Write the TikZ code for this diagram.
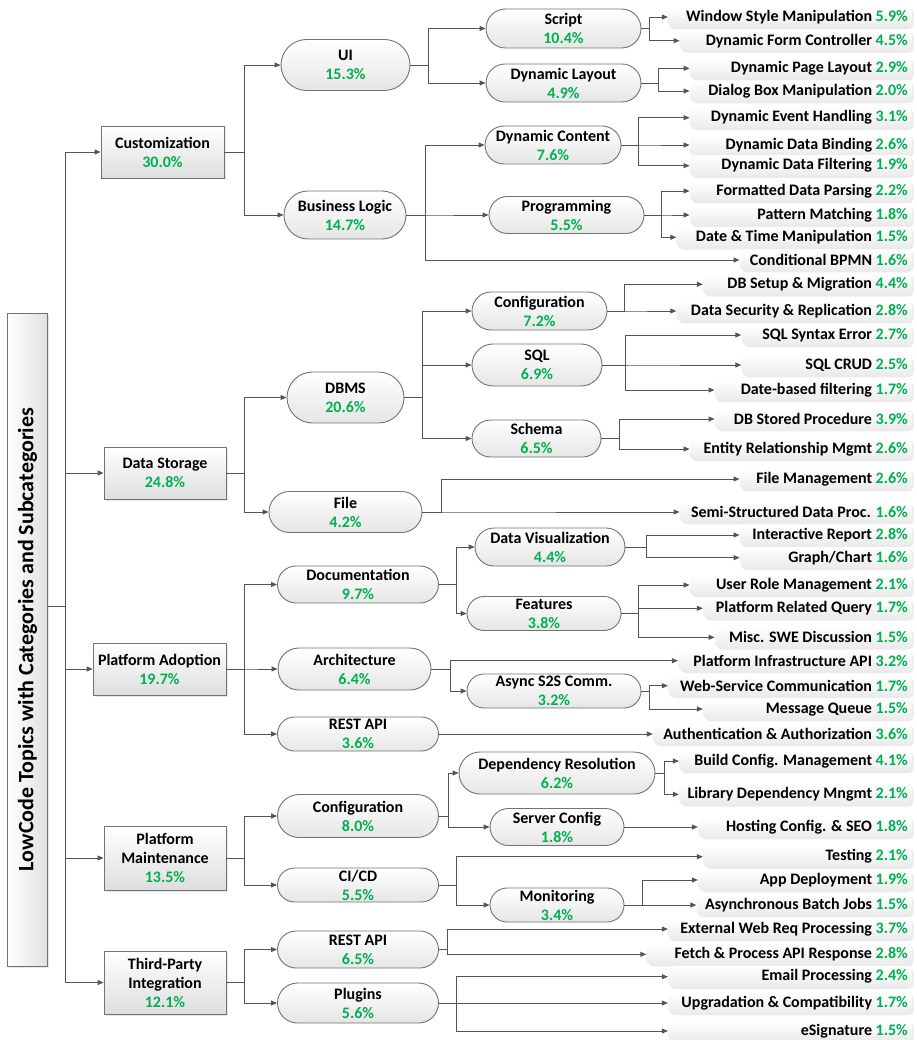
\documentclass[tikz,border=0pt]{standalone}
\usepackage{fontspec}
\usepackage{graphicx}
\setmainfont{Carlito}
\usetikzlibrary{arrows.meta,shapes.misc,shadows}
\definecolor{pctgreen}{RGB}{0,176,80}
\definecolor{linegray}{RGB}{85,85,85}
\definecolor{bordergray}{RGB}{115,115,115}
\newcommand{\pct}[1]{\textcolor{pctgreen}{#1}}
\tikzset{
  base/.style={font=\fontsize{16}{19}\selectfont\bfseries, align=center, inner sep=0pt, text=black},
  catbox/.style={base, rectangle, draw=bordergray, line width=0.9pt, top color=white, bottom color=black!13,
     drop shadow={shadow xshift=1.5pt, shadow yshift=-1.5pt, opacity=0.18}},
  rootbox/.style={base, font=\fontsize{22}{26}\selectfont\bfseries, rectangle, draw=bordergray, line width=0.9pt,
     left color=white, right color=black!12,
     drop shadow={shadow xshift=1.5pt, shadow yshift=-1.5pt, opacity=0.18}},
  pill/.style={base, rounded rectangle, draw=bordergray, line width=0.9pt, top color=white, bottom color=black!10},
  leaf/.style={base, rounded corners=5pt, top color=white, bottom color=black!8, inner xsep=4pt, inner ysep=0pt,
     minimum height=21pt, anchor=east,
     drop shadow={shadow xshift=1.8pt, shadow yshift=-1.8pt, opacity=0.16}},
  conn/.style={draw=linegray, line width=0.9pt},
  arr/.style={conn, -{Triangle[length=6pt,width=5pt]}},
}
\newcommand{\leafnode}[5]{%
  \pgfmathsetmacro{\lfw}{904-#2}%
  \node[leaf] (#1) at (912,#3) {\makebox[\lfw pt][r]{#4 \pct{#5}}};}
\newcommand{\tolink}[3]{\draw[arr] (#1.east) -- (#1.east -| #2) |- (#3.west);}
\begin{document}
\begin{tikzpicture}[x=1pt,y=-1pt]
\useasboundingbox (0,0) rectangle (917,1040);

% root
\node[rootbox, minimum width=40, minimum height=653] (root) at (27.6,639.5)
  {\rotatebox{90}{LowCode Topics with Categories and Subcategories}};

% categories
\node[catbox, minimum width=123, minimum height=52] (cust) at (162.5,152) {Customization\\\pct{30.0\%}};
\node[catbox, minimum width=122, minimum height=52] (ds) at (165,473) {Data Storage\\\pct{24.8\%}};
\node[catbox, minimum width=133, minimum height=52] (pa) at (159.5,669) {Platform Adoption\\\pct{19.7\%}};
\node[catbox, minimum width=122, minimum height=64] (pm) at (165,858) {Platform\\Maintenance\\\pct{13.5\%}};
\node[catbox, minimum width=122, minimum height=63] (tpi) at (165,982.5) {Third-Party\\Integration\\\pct{12.1\%}};

% level 2
\node[pill, minimum width=129, minimum height=51] (ui) at (345.5,65) {UI\\\pct{15.3\%}};
\node[pill, minimum width=122, minimum height=48] (bl) at (345,215) {Business Logic\\\pct{14.7\%}};
\node[pill, minimum width=117, minimum height=51] (dbms) at (345.5,397.5) {DBMS\\\pct{20.6\%}};
\node[pill, minimum width=153, minimum height=41] (file) at (345.5,512) {File\\\pct{4.2\%}};
\node[pill, minimum width=161, minimum height=37] (doc) at (358,584.5) {Documentation\\\pct{9.7\%}};
\node[pill, minimum width=153, minimum height=42] (arch) at (354.5,669) {Architecture\\\pct{6.4\%}};
\node[pill, minimum width=161, minimum height=34] (restpa) at (358,734) {REST API\\\pct{3.6\%}};
\node[pill, minimum width=161, minimum height=43] (cfgpm) at (358,816) {Configuration\\\pct{8.0\%}};
\node[pill, minimum width=161, minimum height=34] (cicd) at (358,885) {CI/CD\\\pct{5.5\%}};
\node[pill, minimum width=161, minimum height=37] (resttp) at (358,949.5) {REST API\\\pct{6.5\%}};
\node[pill, minimum width=161, minimum height=40] (plug) at (358,1003) {Plugins\\\pct{5.6\%}};

% level 3
\node[pill, minimum width=155, minimum height=39] (script) at (563.5,28.5) {Script\\\pct{10.4\%}};
\node[pill, minimum width=155, minimum height=38] (dlay) at (563.5,83) {Dynamic Layout\\\pct{4.9\%}};
\node[pill, minimum width=136, minimum height=38] (dcon) at (553,145) {Dynamic Content\\\pct{7.6\%}};
\node[pill, minimum width=155, minimum height=37] (prog) at (566.5,215) {Programming\\\pct{5.5\%}};
\node[pill, minimum width=135, minimum height=38] (cfgds) at (539.5,311) {Configuration\\\pct{7.2\%}};
\node[pill, minimum width=130, minimum height=42] (sql) at (537,365) {SQL\\\pct{6.9\%}};
\node[pill, minimum width=129, minimum height=37] (schema) at (536.5,438.5) {Schema\\\pct{6.5\%}};
\node[pill, minimum width=150, minimum height=38] (dviz) at (550,547) {Data Visualization\\\pct{4.4\%}};
\node[pill, minimum width=154, minimum height=34] (feat) at (544,613.5) {Features\\\pct{3.8\%}};
\node[pill, minimum width=174, minimum height=34] (async) at (554,691) {Async S2S Comm.\\\pct{3.2\%}};
\node[pill, minimum width=196, minimum height=42] (dep) at (557,773) {Dependency Resolution\\\pct{6.2\%}};
\node[pill, minimum width=134, minimum height=37] (srv) at (557,827) {Server Config\\\pct{1.8\%}};
\node[pill, minimum width=134, minimum height=34] (mon) at (557,905) {Monitoring\\\pct{3.4\%}};

% leaves
\leafnode{l1}{668.3}{17}{Window Style Manipulation}{5.9\%}
\leafnode{l2}{680}{40.7}{Dynamic Form Controller}{4.5\%}
\leafnode{l3}{690}{68.3}{Dynamic Page Layout}{2.9\%}
\leafnode{l4}{690}{91}{Dialog Box Manipulation}{2.0\%}
\leafnode{l5}{690}{117.7}{Dynamic Event Handling}{3.1\%}
\leafnode{l6}{690}{145}{Dynamic Data Binding}{2.6\%}
\leafnode{l7}{690}{165.7}{Dynamic Data Filtering}{1.9\%}
\leafnode{l8}{690}{191}{Formatted Data Parsing}{2.2\%}
\leafnode{l9}{690}{215}{Pattern Matching}{1.8\%}
\leafnode{l10}{676.7}{237.3}{Date \& Time Manipulation}{1.5\%}
\leafnode{l11}{740}{260}{Conditional BPMN}{1.6\%}
\leafnode{l12}{703.3}{284.3}{DB Setup \& Migration}{4.4\%}
\leafnode{l13}{676.7}{311}{Data Security \& Replication}{2.8\%}
\leafnode{l14}{741.7}{335}{SQL Syntax Error}{2.7\%}
\leafnode{l15}{741.7}{365}{SQL CRUD}{2.5\%}
\leafnode{l16}{715}{390}{Date-based filtering}{1.7\%}
\leafnode{l17}{715}{419}{DB Stored Procedure}{3.9\%}
\leafnode{l18}{690}{449}{Entity Relationship Mgmt}{2.6\%}
\leafnode{l19}{740}{479}{File Management}{2.6\%}
\leafnode{l20}{680}{512}{Semi-Structured Data Proc.}{1.6\%}
\leafnode{l21}{740}{535}{Interactive Report}{2.8\%}
\leafnode{l22}{740}{557.7}{Graph/Chart}{1.6\%}
\leafnode{l23}{690}{585}{User Role Management}{2.1\%}
\leafnode{l24}{703.3}{608.3}{Platform Related Query}{1.7\%}
\leafnode{l25}{715}{637.3}{Misc. SWE Discussion}{1.5\%}
\leafnode{l26}{678.3}{660.7}{Platform Infrastructure API}{3.2\%}
\leafnode{l27}{668.3}{685.7}{Web-Service Communication}{1.7\%}
\leafnode{l28}{703.3}{709}{Message Queue}{1.5\%}
\leafnode{l29}{653.3}{734}{Authentication \& Authorization}{3.6\%}
\leafnode{l30}{679.3}{761}{Build Config. Management}{4.1\%}
\leafnode{l31}{679.3}{794.3}{Library Dependency Mngmt}{2.1\%}
\leafnode{l32}{698.3}{827}{Hosting Config. \& SEO}{1.8\%}
\leafnode{l33}{703.3}{856.7}{Testing}{2.1\%}
\leafnode{l34}{698.3}{880}{App Deployment}{1.9\%}
\leafnode{l35}{696.7}{905}{Asynchronous Batch Jobs}{1.5\%}
\leafnode{l36}{668.3}{929}{External Web Req Processing}{3.7\%}
\leafnode{l37}{646.7}{954.3}{Fetch \& Process API Response}{2.8\%}
\leafnode{l38}{668.3}{976.7}{Email Processing}{2.4\%}
\leafnode{l39}{668.3}{1003}{Upgradation \& Compatibility}{1.7\%}
\leafnode{l40}{668.3}{1031}{eSignature}{1.5\%}

% branch coordinates
\coordinate (rj) at (65,606.5);
\coordinate (bCat) at (244,0);
\coordinate (bUI) at (428,0);
\coordinate (bBL) at (425,0);
\coordinate (bDBMS) at (422,0);
\coordinate (bFile) at (441,0);
\coordinate (bDoc) at (456.7,0);
\coordinate (bArch) at (450,0);
\coordinate (bCfgPM) at (448,0);
\coordinate (bCICD) at (456.7,0);
\coordinate (bRestTP) at (447.7,0);
\coordinate (bPlug) at (456.7,0);
\coordinate (bScript) at (649,0);
\coordinate (bDLay) at (658.3,0);
\coordinate (bDCon) at (638.7,0);
\coordinate (bProg) at (661.3,0);
\coordinate (bCfgDS) at (624.3,0);
\coordinate (bSQL) at (625,0);
\coordinate (bSchema) at (619,0);
\coordinate (bDViz) at (646.7,0);
\coordinate (bFeat) at (638.7,0);
\coordinate (bAsync) at (649,0);
\coordinate (bDep) at (664.3,0);
\coordinate (bMon) at (642.3,0);

% root connectors
\draw[conn] (root.east |- rj) -- (rj);
\foreach \c in {cust,ds,pa,pm,tpi} {\draw[arr] (rj) |- (\c.west);}

% category -> level 2
\foreach \c in {ui,bl} {\tolink{cust}{bCat}{\c}}
\foreach \c in {dbms,file} {\tolink{ds}{bCat}{\c}}
\foreach \c in {doc,arch,restpa} {\tolink{pa}{bCat}{\c}}
\foreach \c in {cfgpm,cicd} {\tolink{pm}{bCat}{\c}}
\foreach \c in {resttp,plug} {\tolink{tpi}{bCat}{\c}}

% level 2 -> children
\foreach \c in {script,dlay} {\tolink{ui}{bUI}{\c}}
\foreach \c in {dcon,prog,l11} {\tolink{bl}{bBL}{\c}}
\foreach \c in {cfgds,sql,schema} {\tolink{dbms}{bDBMS}{\c}}
\foreach \c in {l19,l20} {\tolink{file}{bFile}{\c}}
\foreach \c in {dviz,feat} {\tolink{doc}{bDoc}{\c}}
\foreach \c in {l26,async} {\tolink{arch}{bArch}{\c}}
\draw[arr] (restpa.east) -- (l29.west);
\foreach \c in {dep,srv} {\tolink{cfgpm}{bCfgPM}{\c}}
\foreach \c in {l33,mon} {\tolink{cicd}{bCICD}{\c}}
\foreach \c in {l36,l37} {\tolink{resttp}{bRestTP}{\c}}
\foreach \c in {l38,l39,l40} {\tolink{plug}{bPlug}{\c}}

% level 3 -> leaves
\foreach \c in {l1,l2} {\tolink{script}{bScript}{\c}}
\foreach \c in {l3,l4} {\tolink{dlay}{bDLay}{\c}}
\foreach \c in {l5,l6,l7} {\tolink{dcon}{bDCon}{\c}}
\foreach \c in {l8,l9,l10} {\tolink{prog}{bProg}{\c}}
\foreach \c in {l12,l13} {\tolink{cfgds}{bCfgDS}{\c}}
\foreach \c in {l14,l15,l16} {\tolink{sql}{bSQL}{\c}}
\foreach \c in {l17,l18} {\tolink{schema}{bSchema}{\c}}
\foreach \c in {l21,l22} {\tolink{dviz}{bDViz}{\c}}
\foreach \c in {l23,l24,l25} {\tolink{feat}{bFeat}{\c}}
\foreach \c in {l27,l28} {\tolink{async}{bAsync}{\c}}
\foreach \c in {l30,l31} {\tolink{dep}{bDep}{\c}}
\draw[arr] (srv.east) -- (l32.west);
\foreach \c in {l34,l35} {\tolink{mon}{bMon}{\c}}
\end{tikzpicture}
\end{document}
